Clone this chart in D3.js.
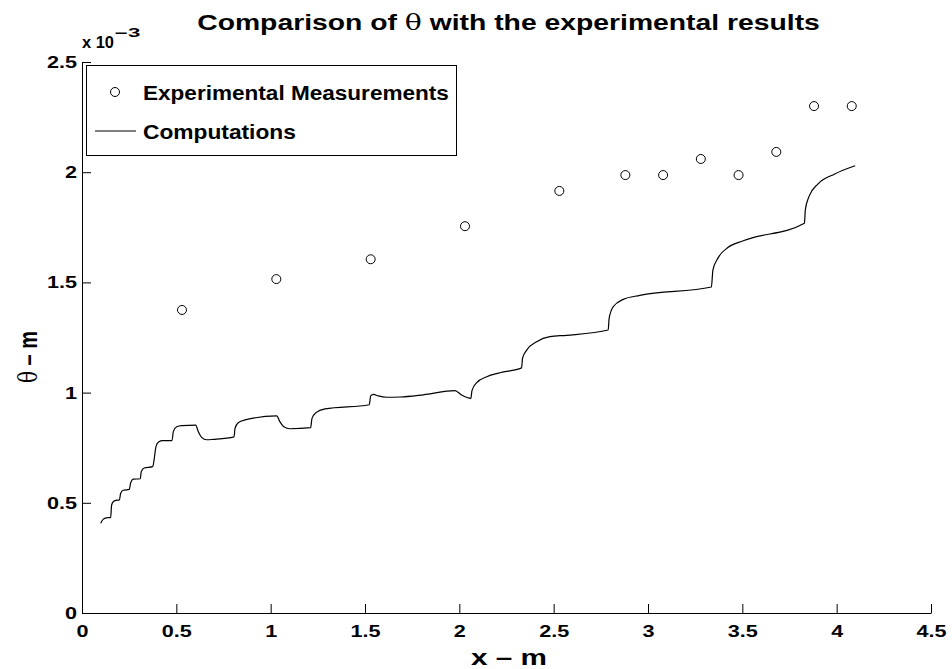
<!DOCTYPE html>
<html>
<head>
<meta charset="utf-8">
<script src="https://cdn.jsdelivr.net/npm/d3@7"></script>
<style>
  body { margin: 0; background: #fff; }
  svg { display: block; font-family: "Liberation Sans", Arial, Helvetica, sans-serif; }
</style>
</head>
<body>
<svg id="chart" width="952" height="669"></svg>
<script>
// theta values are in units of 1e-3 m (axis shows "x 10^-3")
const measX = [0.53, 1.03, 1.53, 2.03, 2.53, 2.88, 3.08, 3.28, 3.48, 3.68, 3.88, 4.08];
const measTheta = [1.375, 1.515, 1.605, 1.755, 1.915, 1.987, 1.987, 2.06, 1.987, 2.092, 2.30, 2.30];

const compX = [0.099, 0.113, 0.131, 0.152, 0.157, 0.166, 0.180, 0.198, 0.205, 0.219, 0.251, 0.258, 0.272,
  0.309, 0.314, 0.330, 0.375, 0.382, 0.392, 0.406, 0.428, 0.477, 0.484, 0.502, 0.528, 0.603, 0.616, 0.634,
  0.661, 0.696, 0.806, 0.811, 0.828, 0.864, 1.032, 1.049, 1.070, 1.102, 1.212, 1.219, 1.240, 1.288, 1.523,
  1.530, 1.544, 1.570, 1.615, 1.685, 1.809, 1.977, 2.012, 2.061, 2.067, 2.092, 2.145, 2.215, 2.330, 2.335,
  2.357, 2.410, 2.480, 2.569, 2.789, 2.794, 2.816, 2.869, 2.957, 3.336, 3.344, 3.370, 3.423, 3.505, 3.829,
  3.834, 3.853, 3.900, 3.990, 4.098];
const compTheta = [0.407, 0.426, 0.432, 0.434, 0.490, 0.505, 0.511, 0.513, 0.543, 0.557, 0.561, 0.591, 0.607,
  0.609, 0.641, 0.658, 0.664, 0.694, 0.755, 0.776, 0.782, 0.782, 0.823, 0.845, 0.850, 0.852, 0.823, 0.797,
  0.786, 0.788, 0.799, 0.838, 0.863, 0.876, 0.894, 0.868, 0.845, 0.836, 0.841, 0.883, 0.909, 0.926, 0.945,
  0.985, 0.992, 0.985, 0.979, 0.980, 0.990, 1.009, 0.989, 0.974, 1.009, 1.045, 1.072, 1.090, 1.112, 1.156,
  1.193, 1.231, 1.254, 1.260, 1.284, 1.337, 1.390, 1.423, 1.441, 1.479, 1.556, 1.609, 1.658, 1.689, 1.768,
  1.829, 1.889, 1.946, 1.992, 2.029];

const xTicks = [0, 0.5, 1, 1.5, 2, 2.5, 3, 3.5, 4, 4.5];
const yTicks = [0, 0.5, 1, 1.5, 2, 2.5];

const svg = d3.select('#chart');
const plotLeft = 82, plotRight = 931, plotTop = 62, plotBottom = 613;
const tickLen = 9;
const stretch = 1.27; // the original text is wider than Liberation Sans

const x = d3.scaleLinear().domain([0, 4.5]).range([plotLeft, plotRight]);
const y = d3.scaleLinear().domain([0, 2.5]).range([plotBottom, plotTop]);

// axes (MATLAB style, box off, ticks inside)
const xAxis = d3.axisBottom(x).tickValues(xTicks).tickSizeInner(-tickLen).tickSizeOuter(0)
  .tickPadding(12).tickFormat(d3.format('~g'));
const gx = svg.append('g').attr('transform', `translate(0,${plotBottom})`).call(xAxis);
gx.selectAll('text').attr('font-size', '17px').attr('font-weight', 'bold').attr('fill', '#000')
  .attr('font-family', '"Liberation Sans", Arial, sans-serif')
  .attr('transform', `scale(${stretch},1)`);

const yAxis = d3.axisLeft(y).tickValues(yTicks).tickSizeInner(-tickLen).tickSizeOuter(0)
  .tickPadding(6).tickFormat(d3.format('~g'));
const gy = svg.append('g').attr('transform', `translate(${plotLeft},0)`).call(yAxis);
gy.selectAll('text').attr('font-size', '17px').attr('font-weight', 'bold').attr('fill', '#000')
  .attr('font-family', '"Liberation Sans", Arial, sans-serif')
  .attr('x', -5 / stretch)
  .attr('transform', `scale(${stretch},1)`);

svg.selectAll('.domain').attr('stroke', '#000');
svg.selectAll('.tick line').attr('stroke', '#000');

// put a text at (ax, ay) and stretch it horizontally to a target width
function fitText(ax, ay, width, anchor) {
  const g = svg.append('g').attr('transform', `translate(${ax},${ay})`);
  const t = g.append('text').attr('x', 0).attr('y', 0).attr('text-anchor', anchor || 'start')
    .attr('font-weight', 'bold').attr('fill', '#000');
  t.fit = () => {
    const w = t.node().getBBox().width;
    t.attr('transform', `scale(${width / w},1)`);
    return t;
  };
  return t;
}

// exponent label
fitText(82, 48, 32).attr('font-size', '17px').text('x 10').fit();
fitText(115, 37, 26).attr('font-size', '12px').text('\u22123').fit();

// computed curve
const line = d3.line()
  .x((d, i) => x(compX[i]))
  .y(d => y(d))
  .curve(d3.curveMonotoneX);

svg.append('path')
  .datum(compTheta)
  .attr('d', line)
  .attr('fill', 'none')
  .attr('stroke', '#000')
  .attr('stroke-width', 1.2);

// measurements
svg.append('g').selectAll('circle')
  .data(measTheta)
  .join('circle')
  .attr('cx', (d, i) => x(measX[i]))
  .attr('cy', d => y(d))
  .attr('r', 4.5)
  .attr('fill', 'none')
  .attr('stroke', '#000')
  .attr('stroke-width', 1);

// title & labels
const title = fitText(508.5, 30, 623, 'middle').attr('font-size', '22px');
title.append('tspan').text('Comparison of ');
title.append('tspan').attr('font-weight', 'normal').attr('font-family', '"DejaVu Serif", serif').text('\u03b8');
title.append('tspan').text(' with the experimental results');
title.fit();

fitText(509, 665, 76, 'middle').attr('font-size', '22px').text('x \u2013 m').fit();

const ylab = svg.append('text').attr('transform', `translate(37,357) scale(1.3,1) rotate(-90)`)
  .attr('text-anchor', 'middle').attr('font-size', '20px').attr('font-weight', 'bold');
ylab.append('tspan').attr('font-weight', 'normal').attr('font-family', '"DejaVu Serif", serif').text('\u03b8');
ylab.append('tspan').text(' \u2013 m');

// legend
const legend = svg.append('g');
legend.append('rect').attr('x', 86.5).attr('y', 65.5).attr('width', 370).attr('height', 90)
  .attr('fill', '#fff').attr('stroke', '#000').attr('stroke-width', 1);
legend.append('circle').attr('cx', 115).attr('cy', 92).attr('r', 4.5)
  .attr('fill', 'none').attr('stroke', '#000');
legend.append('line').attr('x1', 95).attr('x2', 136).attr('y1', 131).attr('y2', 131)
  .attr('stroke', '#000').attr('stroke-width', 1.2);
fitText(143, 100, 306).attr('font-size', '20px').text('Experimental Measurements').fit();
fitText(143, 139, 153).attr('font-size', '20px').text('Computations').fit();
</script>
</body>
</html>
